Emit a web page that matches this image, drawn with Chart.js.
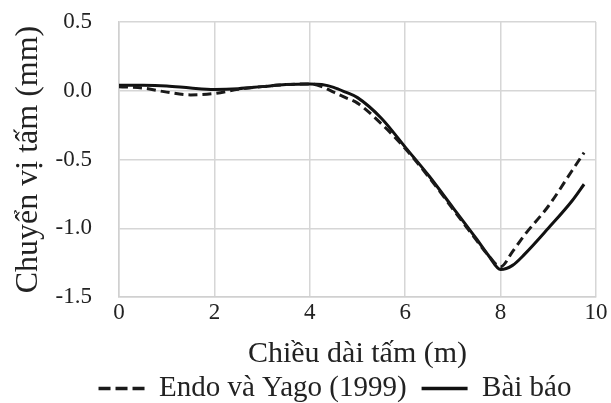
<!DOCTYPE html>
<html>
<head>
<meta charset="utf-8">
<script src="https://cdn.jsdelivr.net/npm/chart.js@4.4.0/dist/chart.umd.min.js"></script>
<style>
  html, body { margin: 0; padding: 0; background: #ffffff; }
  #wrap { width: 611px; height: 403px; }
</style>
</head>
<body>
<div id="wrap"><canvas id="c" width="611" height="403"></canvas></div>
<script>
// Chart values
const xPositions = [0, 0.5, 1, 1.5, 2, 2.5, 3, 3.5, 4, 4.25, 4.5, 4.75, 5, 5.5, 6, 6.5, 7, 7.5, 7.75, 8, 8.25, 8.5, 9, 9.5, 9.75];
const endoYago   = [0.03, 0.02, -0.01, -0.03, -0.02, 0.01, 0.03, 0.045, 0.05, 0.03, -0.01, -0.05, -0.09, -0.24, -0.42, -0.63, -0.86, -1.09, -1.20, -1.28, -1.17, -1.05, -0.84, -0.58, -0.45];
const baiBao     = [0.04, 0.04, 0.035, 0.02, 0.01, 0.015, 0.03, 0.045, 0.05, 0.045, 0.025, -0.01, -0.05, -0.20, -0.41, -0.62, -0.85, -1.08, -1.20, -1.30, -1.27, -1.19, -1.00, -0.80, -0.68];
const seriesNames = ['Endo và Yago (1999)', 'Bài báo'];
const xTitle = 'Chiều dài tấm (m)';
const yTitle = 'Chuyển vị tấm (mm)';
const xTickValues = [0, 2, 4, 6, 8, 10];
const yTickValues = [-1.5, -1.0, -0.5, 0.0, 0.5];

const FONT = "'Liberation Serif', 'Times New Roman', serif";
const toPoints = (ys) => xPositions.map((x, i) => ({ x: x, y: ys[i] }));

// moves the legend row a little to the right, as in the reference
const legendShift = {
  id: 'legendShift',
  afterLayout(chart) {
    const l = chart.legend;
    if (l) { l.left += 37; l.right += 37; }
  }
};

new Chart(document.getElementById('c'), {
  type: 'line',
  data: {
    datasets: [
      {
        label: seriesNames[0],
        data: toPoints(endoYago),
        borderColor: '#1a1a1a',
        backgroundColor: '#1a1a1a',
        borderWidth: 3,
        borderDash: [9, 5],
        pointRadius: 0,
        cubicInterpolationMode: 'monotone',
        fill: false
      },
      {
        label: seriesNames[1],
        data: toPoints(baiBao),
        borderColor: '#111111',
        backgroundColor: '#111111',
        borderWidth: 3,
        pointRadius: 0,
        cubicInterpolationMode: 'monotone',
        fill: false
      }
    ]
  },
  plugins: [legendShift],
  options: {
    responsive: false,
    animation: false,
    devicePixelRatio: 1,
    layout: { padding: { left: 0, right: 15, top: 22, bottom: -10 } },
    plugins: {
      tooltip: { enabled: false },
      legend: {
        position: 'bottom',
        labels: {
          color: '#222',
          font: { family: FONT, size: 29 },
          usePointStyle: true,
          pointStyle: 'line',
          pointStyleWidth: 46,
          boxWidth: 46,
          boxHeight: 10,
          padding: 15,
          generateLabels: (chart) => {
            const items = Chart.defaults.plugins.legend.labels.generateLabels(chart);
            items.forEach((it, i) => {
              const ds = chart.data.datasets[i];
              it.lineDash = ds.borderDash ? [12, 5] : [];
              it.lineWidth = 3.5;
              it.strokeStyle = ds.borderColor;
            });
            return items;
          }
        }
      }
    },
    scales: {
      x: {
        type: 'linear',
        min: 0, max: 10,
        afterBuildTicks: (s) => { s.ticks = xTickValues.map(v => ({ value: v })); },
        ticks: { color: '#222', font: { family: FONT, size: 23 }, padding: 2 },
        grid: { color: '#d6d6d6', lineWidth: 1.5, drawTicks: false },
        border: { color: '#d0d0d0', width: 1.5 },
        title: { display: true, text: xTitle, color: '#222', font: { family: FONT, size: 30 }, padding: { top: 0, bottom: -13 } },
        afterFit: (s) => { s.height = 62; s.paddingLeft = 0; s.paddingRight = 0; }
      },
      y: {
        type: 'linear',
        min: -1.5, max: 0.5,
        afterBuildTicks: (s) => { s.ticks = yTickValues.map(v => ({ value: v })); },
        ticks: { color: '#222', font: { family: FONT, size: 23 }, padding: 27, callback: (v) => Number(v).toFixed(1) },
        grid: { color: '#d6d6d6', lineWidth: 1.5, drawTicks: false },
        border: { color: '#d0d0d0', width: 1.5 },
        title: { display: true, text: yTitle, color: '#222', font: { family: FONT, size: 32 }, padding: { top: 9, bottom: 0 } },
        afterFit: (s) => { s.width = 119; s.paddingTop = 0; s.paddingBottom = 0; }
      }
    }
  }
});
</script>
</body>
</html>
